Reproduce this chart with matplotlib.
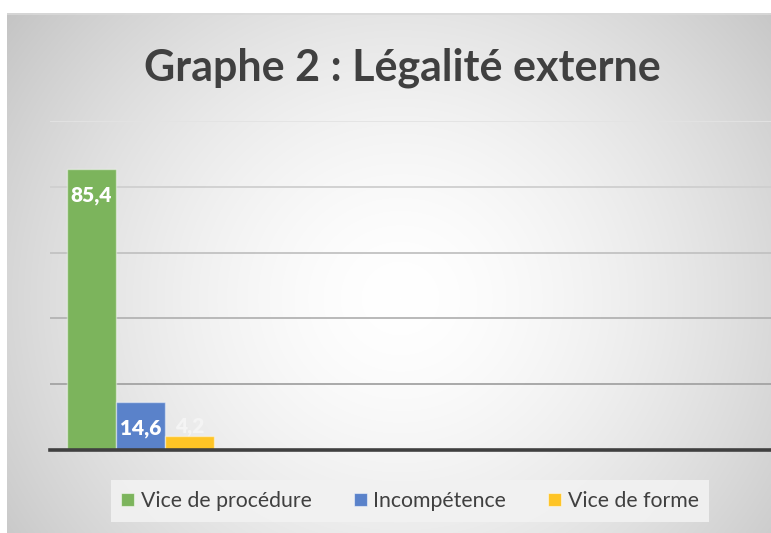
import numpy as np
import matplotlib
matplotlib.use("Agg")
import matplotlib.pyplot as plt
from matplotlib.patches import Patch

title = "Graphe 2 : Légalité externe"
series = ["Vice de procédure", "Incompétence", "Vice de forme"]
values = [85.4, 14.6, 4.2]
labels = ["85,4", "14,6", "4,2"]
colors = ["#7cb45c", "#5a82ca", "#fec425"]
gridvals = [20, 40, 60, 80, 100]
gridcols = ["#a3a3a3", "#b3b3b3", "#c2c2c2", "#cfcfcf", "#e3e3e3"]

W, H = 771, 533
fig = plt.figure(figsize=(W / 100, H / 100), dpi=100)
fig.patch.set_facecolor("white")

# radial grey gradient for the chart area
bg = fig.add_axes([7 / W, 0, (W - 7) / W, (H - 13) / H])
bw, bh = W - 7, H - 13
yy, xx = np.mgrid[0:bh, 0:bw]
r = np.sqrt(((xx - 393) / 1.0) ** 2 + ((yy - 285) / 0.95) ** 2)
v = 1 - 0.22 * np.clip(r / 480, 0, 1.2) ** 1.6
v = np.clip(v, 0.77, 1.0)
bg.imshow(np.dstack([v, v, v]), aspect="auto", extent=(0, bw, bh, 0))
bg.axhline(0.5, color="#d9d9d9", lw=1.2)
bg.set_xlim(0, bw)
bg.set_ylim(bh, 0)
bg.axis("off")

# plot area
left, right, base, top = 50, 771, 450, 121
ax = fig.add_axes([left / W, 1 - base / H, (right - left) / W, (base - top) / H])
ax.set_facecolor("none")
bar_px = 49.0
x0 = (91.5 - left) / bar_px
ax.set_xlim(-x0, (right - left) / bar_px - x0)
ax.set_ylim(0, 100)

for g, c in zip(gridvals, gridcols):
    ax.axhline(g, color=c, lw=1.3, zorder=1)

xs = np.arange(len(values))
ax.bar(xs, values, width=1.0, color=colors, edgecolor=(1, 1, 1, 0.45),
       linewidth=1.0, zorder=2)
ax.axhline(0, color="#404040", lw=2.6, zorder=3, clip_on=False)

for i, (val, lab) in enumerate(zip(values, labels)):
    if val > 10:
        ax.annotate(lab, (xs[i], val), xytext=(0, -19), textcoords="offset points",
                    ha="center", va="center", color="white", fontweight="heavy",
                    fontsize=15, family="Lato", zorder=4)
    else:
        ax.annotate(lab, (xs[i], val), xytext=(0, 7), textcoords="offset points",
                    ha="center", va="center", color="#f4f4f4", fontweight="heavy",
                    fontsize=15, family="Lato", zorder=4)

for s in ax.spines.values():
    s.set_visible(False)
ax.set_xticks([])
ax.set_yticks([])

fig.text(402 / W, 1 - 68 / H, title, ha="center", va="center", fontsize=31,
         fontweight="bold", color="#404040", family="Lato")

handles = [Patch(facecolor=c, edgecolor=(1, 1, 1, 0.5), lw=0.8) for c in colors]
leg = fig.legend(handles, series, loc="center", bbox_to_anchor=(410 / W, 1 - 501 / H),
                 ncol=3, frameon=True, handlelength=0.6,
                 handleheight=0.6, handletextpad=0.3, columnspacing=2.0,
                 borderpad=0.5, prop={"family": "Lato", "size": 15.3})
leg.get_frame().set_facecolor("#f2f2f2")
leg.get_frame().set_edgecolor("none")
leg.get_frame().set_alpha(0.9)
leg.get_frame().set_boxstyle("square", pad=0.0)
for t in leg.get_texts():
    t.set_color("#404040")

fig.savefig("out.png", dpi=100)
